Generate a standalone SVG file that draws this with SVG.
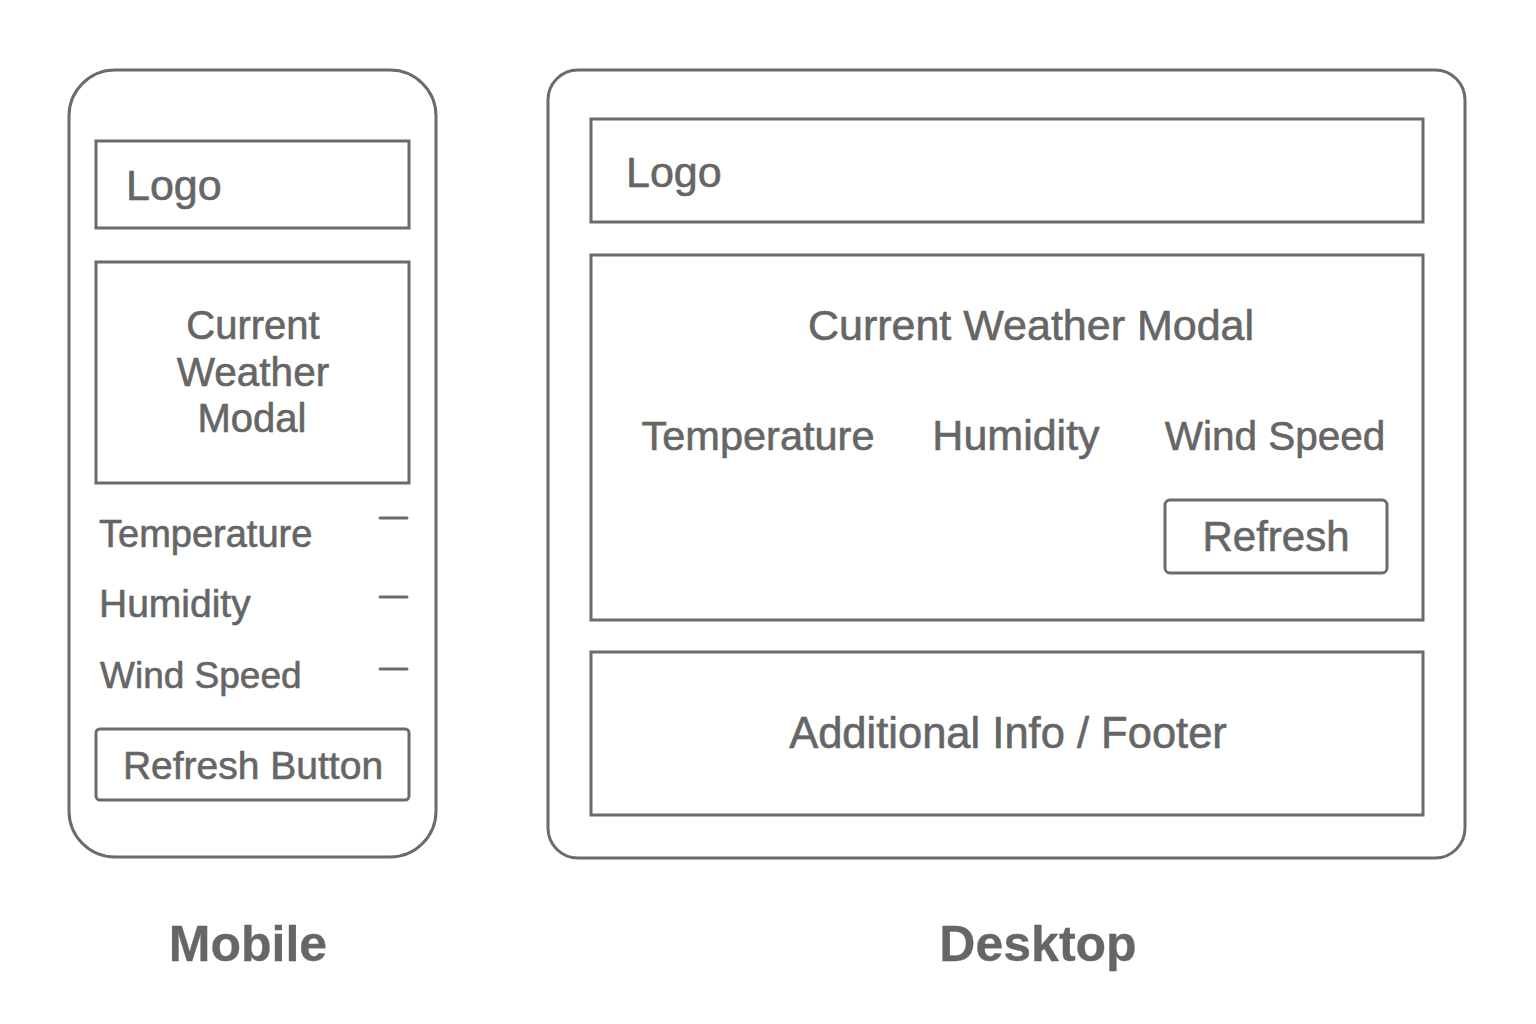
<svg xmlns="http://www.w3.org/2000/svg" width="1536" height="1024" viewBox="0 0 1536 1024">
<style>
.box{fill:none;stroke:#6b6b6b;stroke-width:3}
.t{font-family:"Liberation Sans",Arial,sans-serif;fill:#666666;stroke:#666666;stroke-width:0.6}
.c{text-anchor:middle}
.lbl{font-weight:bold;font-size:50px;stroke-width:0.3}
.dash{stroke:#6b6b6b;stroke-width:3;stroke-linecap:round}
</style>
<rect width="1536" height="1024" fill="#ffffff"/>
<g id="mobile">
<rect class="box" x="69" y="70" width="367" height="787" rx="46"/>
<g id="m-logo"><rect class="box" x="96" y="141" width="313" height="87"/><text class="t" x="126" y="200" font-size="43">Logo</text></g>
<g id="m-modal"><rect class="box" x="96" y="262" width="313" height="221"/>
<text class="t c" x="253" y="339" font-size="40">Current</text>
<text class="t c" x="253" y="386" font-size="40.5">Weather</text>
<text class="t c" x="252" y="432" font-size="40">Modal</text></g>
<g id="m-temp"><text class="t" x="99" y="547" font-size="38">Temperature</text><line class="dash" x1="380" y1="518" x2="407" y2="518"/></g>
<g id="m-hum"><text class="t" x="99" y="617" font-size="39">Humidity</text><line class="dash" x1="380" y1="597" x2="407" y2="597"/></g>
<g id="m-wind"><text class="t" x="100" y="688" font-size="37">Wind Speed</text><line class="dash" x1="380" y1="669" x2="407" y2="669"/></g>
<g id="m-refresh"><rect class="box" x="96" y="729" width="313" height="71" rx="4"/><text class="t c" x="253" y="779" font-size="39">Refresh Button</text></g>
</g>
<g id="desktop">
<rect class="box" x="548" y="70" width="917" height="788" rx="30"/>
<g id="d-logo"><rect class="box" x="591" y="119" width="832" height="103"/><text class="t" x="626" y="187" font-size="43">Logo</text></g>
<g id="d-modal"><rect class="box" x="591" y="255" width="832" height="365"/>
<text class="t c" x="1031" y="340" font-size="43">Current Weather Modal</text>
<text class="t c" x="758" y="450" font-size="41.5">Temperature</text>
<text class="t c" x="1016" y="450" font-size="43">Humidity</text>
<text class="t c" x="1275" y="450" font-size="40.5">Wind Speed</text>
<g id="d-refresh"><rect class="box" x="1165" y="500" width="222" height="73" rx="5"/><text class="t c" x="1276" y="551" font-size="42">Refresh</text></g>
</g>
<g id="d-footer"><rect class="box" x="591" y="652" width="832" height="163"/><text class="t c" x="1008" y="748" font-size="43.5">Additional Info / Footer</text></g>
</g>
<g id="connectors"/>
<text class="t c lbl" x="248" y="961">Mobile</text>
<text class="t c lbl" x="1038" y="961">Desktop</text>
</svg>
